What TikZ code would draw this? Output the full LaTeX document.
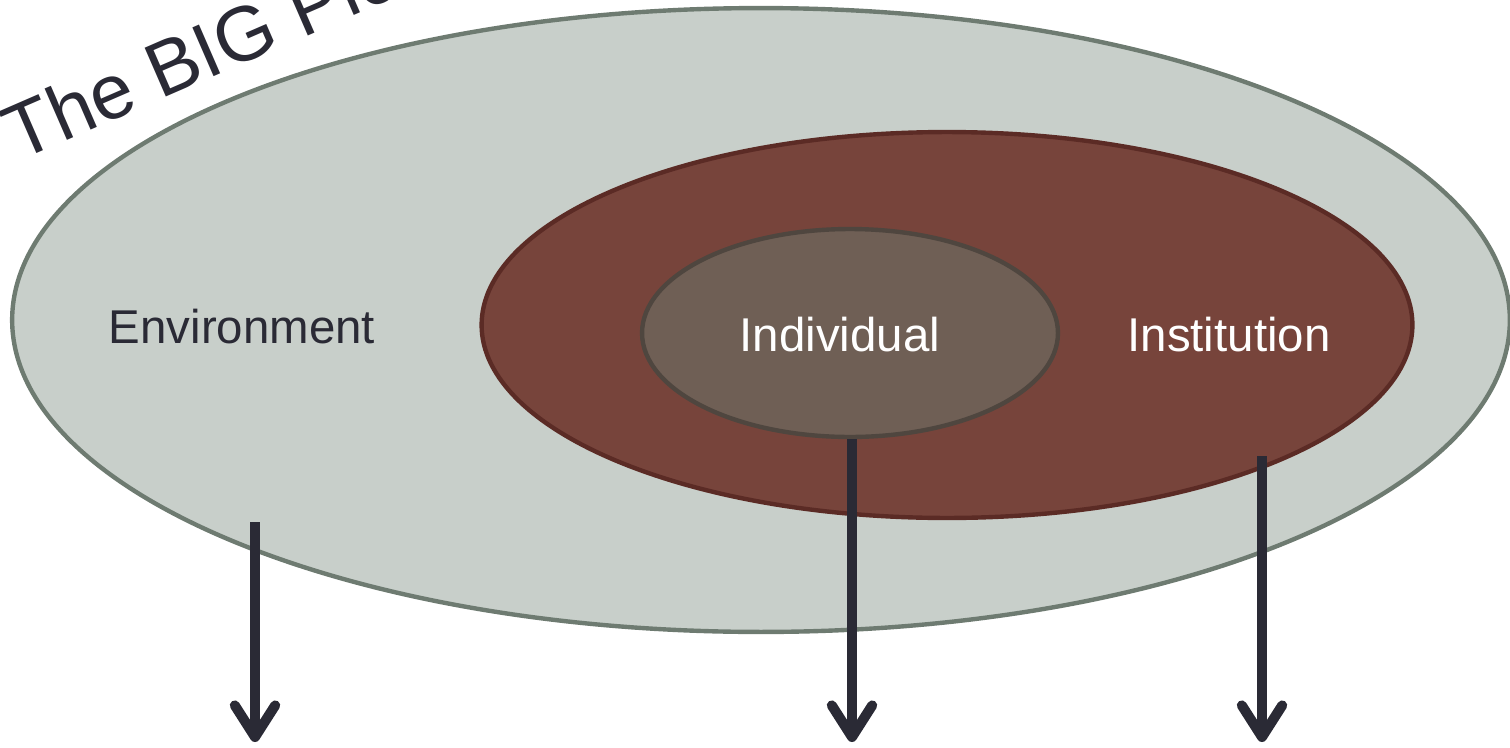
\documentclass[tikz,border=0pt]{standalone}
\usepackage{fontspec}
\setmainfont{Liberation Sans}
\usetikzlibrary{shapes.geometric}
\usetikzlibrary{arrows.meta}

\definecolor{envfill}{HTML}{C8CFCA}
\definecolor{envline}{HTML}{6E7B71}
\definecolor{instfill}{HTML}{77443B}
\definecolor{instline}{HTML}{5B2B25}
\definecolor{indfill}{HTML}{6F5F55}
\definecolor{indline}{HTML}{4F463F}
\definecolor{inkdark}{HTML}{2A2A35}

\tikzset{
  ring/.style={ellipse, inner sep=0pt, line width=2.5pt},
  lbl/.style={font=\fontsize{27}{32}\selectfont},
  bigarrow/.style={inkdark, line width=5.7pt,
    -{Straight Barb[length=18pt, width=23pt, round]},
    preaction={draw=black, opacity=0.2, transform canvas={xshift=1.8pt, yshift=-1pt}}}
}

\begin{document}
\begin{tikzpicture}[x=0.02cm, y=-0.02cm]
\useasboundingbox (0,0) rectangle (1510,747);
\clip (0,0) rectangle (1510,747);

% the three rings
\node[ring, draw=envline, fill=envfill, minimum width=29.96cm, minimum height=12.48cm] (env) at (761,320) {};
\node[ring, draw=instline, fill=instfill, minimum width=18.62cm, minimum height=7.72cm] (inst) at (947,325) {};
\node[ring, draw=indline, fill=indfill, minimum width=8.32cm, minimum height=4.16cm] (ind) at (850,333) {};

% labels
\node[lbl, text=inkdark] (envtext) at (242,327) {Environment};
\node[lbl, text=white] (indtext) at (840,335) {Individual};
\node[lbl, text=white] (insttext) at (1229,335) {Institution};

\node[anchor=base west, rotate=23.5, text=inkdark, font=\fontsize{44}{52}\selectfont] (title) at (13,164) {The BIG Picture};

% arrows out
\coordinate (envstart) at (255,522);
\coordinate (envend) at (255,742);
\coordinate (indend) at (852,742);
\coordinate (inststart) at (1262,456);
\coordinate (instend) at (1262,742);
\draw[bigarrow] (envstart) -- (envend);
\draw[bigarrow] (ind.south -| indend) -- (indend);
\draw[bigarrow] (inststart) -- (instend);
\end{tikzpicture}
\end{document}
